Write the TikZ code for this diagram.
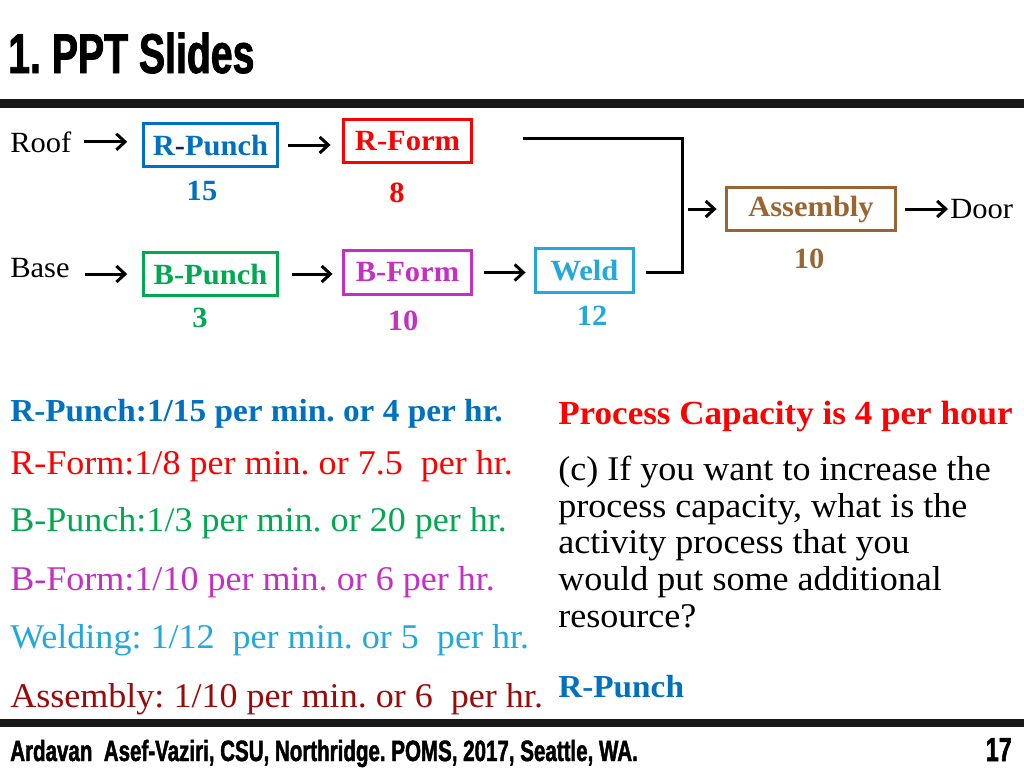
\documentclass[tikz,border=0pt]{standalone}
\usepackage{fontspec}
\setmainfont{Liberation Serif}[FakeStretch=1.04]
\newfontfamily\condfont{Liberation Sans}[FakeStretch=0.7,FakeBold=1.5]
\usetikzlibrary{arrows.meta}
\definecolor{rpblue}{RGB}{0,112,192}
\definecolor{rpdark}{RGB}{20,30,90}
\definecolor{rfred}{RGB}{255,0,0}
\definecolor{bpgreen}{RGB}{0,168,80}
\definecolor{bfmag}{RGB}{196,48,196}
\definecolor{wcyan}{RGB}{35,168,220}
\definecolor{asbrown}{RGB}{153,102,51}
\definecolor{asdark}{RGB}{155,10,10}
\definecolor{barcol}{RGB}{25,25,25}
\frenchspacing
\tikzset{
  procbox/.style={draw=#1, text=#1, line width=2pt, inner sep=0pt,
    font=\fontsize{22}{26}\selectfont\bfseries},
  num/.style={text=#1, inner sep=0pt, font=\fontsize{22}{26}\selectfont\bfseries},
  plainlbl/.style={anchor=base west, inner sep=0pt, font=\fontsize{22}{26}\selectfont},
  arr/.style={line width=2.25pt, -{Straight Barb[length=6.5pt,width=12pt]}},
  conn/.style={line width=2.25pt},
  rate/.style={anchor=base west, inner sep=0pt, text=#1, font=\frenchspacing\fontsize{26}{30}\selectfont},
  boldline/.style={font=\frenchspacing\fontsize{#1}{30}\selectfont\bfseries},
  qtext/.style={anchor=base west, inner sep=0pt, font=\frenchspacing\fontsize{26}{30}\selectfont},
  bar/.style={fill=barcol, draw=none},
  cond/.style={inner sep=0pt, font=\condfont\bfseries\fontsize{#1}{#1}\selectfont}
}
\begin{document}
\begin{tikzpicture}[x=0.75pt,y=-0.75pt]
\useasboundingbox (0,0) rectangle (1024,768);
\fill[white] (0,0) rectangle (1024,768);

% title and bars
\node[cond=42, anchor=base west] (title) at (8,73) {1. PPT Slides};
\fill[bar] (0,99) rectangle (1024,108);
\fill[bar] (0,719) rectangle (1024,727);
\node[cond=22, anchor=base west] (foot) at (10,761) {Ardavan\ \ Asef-Vaziri, CSU, Northridge. POMS, 2017, Seattle, WA.};
\node[cond=25, anchor=base east] (pageno) at (1012,761) {17};

% process diagram
\node[plainlbl] (roof) at (10,152) {Roof};
\node[plainlbl] (base) at (10,277) {Base};
\node[procbox=rpblue, minimum width=100.9pt, minimum height=32.6pt] (rpunch) at (210.5,145) {R\textcolor{rpdark}{-}Punch};
\node[procbox=rfred, minimum width=96.4pt, minimum height=32.6pt] (rform) at (407.5,141) {R-Form};
\node[procbox=bpgreen, minimum width=100.9pt, minimum height=32.6pt] (bpunch) at (210.5,274) {B-Punch};
\node[procbox=bfmag, minimum width=96.4pt, minimum height=33.4pt] (bform) at (407.5,272.5) {B-Form};
\node[procbox=wcyan, minimum width=73.9pt, minimum height=33.4pt] (weld) at (584.5,270.5) {Weld};
\node[procbox=asbrown, minimum width=127.1pt, minimum height=32.6pt] (asm) at (811,209) {Assembly};
\node[plainlbl] (door) at (950,218) {Door};

\node[num=rpblue] (n15) at (202,191) {15};
\node[num=rfred] (n8) at (397,193) {8};
\node[num=bpgreen] (n3) at (200,318) {3};
\node[num=bfmag] (n10b) at (403,321) {10};
\node[num=wcyan] (n12) at (592,316) {12};
\node[num=asbrown] (n10a) at (809,259) {10};

\draw[arr, shorten <=9pt, shorten >=11pt] (roof.east) -- (roof.east -| rpunch.west);
\draw[arr, shorten <=7pt, shorten >=8.5pt] (rpunch.east) -- (rpunch.east -| rform.west);
\draw[arr, shorten <=11pt, shorten >=11pt] (base.east |- bpunch.west) -- (bpunch.west);
\draw[arr, shorten <=10pt, shorten >=7pt] (bpunch.east) -- (bpunch.east -| bform.west);
\draw[arr, shorten <=8.5pt, shorten >=6.25pt] (bform.east) -- (bform.east -| weld.west);
\coordinate (jt) at (682,138);
\coordinate (jb) at (682,272);
\draw[conn, shorten <=37.7pt, shorten >=8.5pt] (rform.east |- jt) -- (jt) -- (jb) -- (weld.east |- jb);
\coordinate (ain) at (688,209);
\draw[arr, shorten >=6.25pt] (ain) -- (asm.west);
\draw[arr, shorten <=6.25pt, shorten >=1.5pt] (asm.east) -- (asm.east -| door.west);

% rates
\node[rate=rpblue, boldline=24] (r1) at (10,421) {R-Punch:1/15 per min. or 4 per hr.};
\node[rate=rfred] (r2) at (10,474) {R-Form:1/8 per min. or 7.5\ \ per hr.};
\node[rate=bpgreen] (r3) at (10,531) {B-Punch:1/3 per min. or 20 per hr.};
\node[rate=bfmag] (r4) at (10,590) {B-Form:1/10 per min. or 6 per hr.};
\node[rate=wcyan] (r5) at (10,648) {Welding: 1/12\ \ per min. or 5\ \ per hr.};
\node[rate=asdark] (r6) at (10,707) {Assembly: 1/10 per min. or 6\ \ per hr.};

% question
\node[qtext, text=rfred, boldline=25.3] (cap) at (558,424) {Process Capacity is 4 per hour};
\node[qtext] (q1) at (558,480) {(c) If you want to increase the};
\node[qtext] (q2) at (558,517) {process capacity, what is the};
\node[qtext] (q3) at (558,553) {activity process that you};
\node[qtext] (q4) at (558,590) {would put some additional};
\node[qtext] (q5) at (558,627) {resource?};
\node[qtext, text=rpblue, boldline=24] (ans) at (558,697) {R-Punch};
\end{tikzpicture}
\end{document}
